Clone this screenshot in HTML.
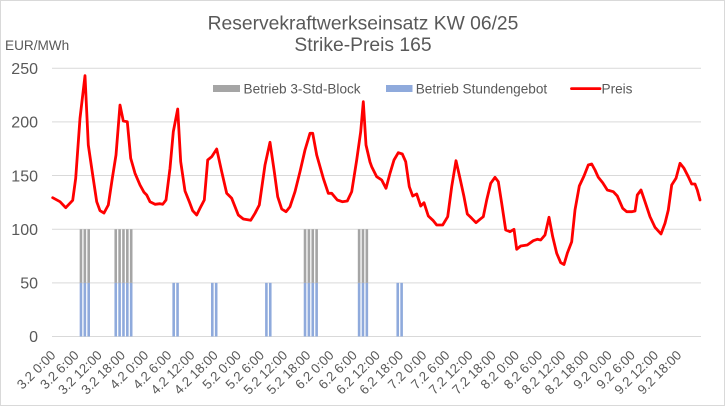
<!DOCTYPE html>
<html>
<head>
<meta charset="utf-8">
<style>
html,body{margin:0;padding:0;background:#fff;}
svg{display:block;font-family:"Liberation Sans",Arial,sans-serif;}
</style>
</head>
<body>
<svg width="726" height="407" viewBox="0 0 726 407" xmlns="http://www.w3.org/2000/svg">
<rect x="0.5" y="0.5" width="724" height="405" fill="#fff" stroke="#D9D9D9" stroke-width="1"/>

<!-- Title -->
<text x="363" y="29.5" text-anchor="middle" font-size="19.3" fill="#595959">Reservekraftwerkseinsatz KW 06/25</text>
<text x="363" y="51" text-anchor="middle" font-size="19.3" fill="#595959">Strike-Preis 165</text>

<!-- Axis unit -->
<text x="5" y="50" font-size="13.6" fill="#595959">EUR/MWh</text>

<!-- Gridlines -->
<g stroke="#D9D9D9" stroke-width="1">
<line x1="52" y1="68.25" x2="701" y2="68.25"/>
<line x1="52" y1="121.9" x2="701" y2="121.9"/>
<line x1="52" y1="175.55" x2="701" y2="175.55"/>
<line x1="52" y1="229.2" x2="701" y2="229.2"/>
<line x1="52" y1="282.85" x2="701" y2="282.85"/>
<line x1="52" y1="336.5" x2="701" y2="336.5"/>
</g>

<!-- Y tick labels -->
<g font-size="16" fill="#595959" text-anchor="end">
<text x="38" y="74">250</text>
<text x="38" y="127.6">200</text>
<text x="38" y="181.3">150</text>
<text x="38" y="234.9">100</text>
<text x="38" y="288.6">50</text>
<text x="38" y="342.2">0</text>
</g>

<!-- Bars: Stundengebot (blue, 0-50) -->
<g fill="#8FAADC">
<rect x="79.67" y="282.85" width="2.6" height="53.65"/>
<rect x="83.54" y="282.85" width="2.6" height="53.65"/>
<rect x="87.40" y="282.85" width="2.6" height="53.65"/>
<rect x="114.44" y="282.85" width="2.6" height="53.65"/>
<rect x="118.30" y="282.85" width="2.6" height="53.65"/>
<rect x="122.17" y="282.85" width="2.6" height="53.65"/>
<rect x="126.03" y="282.85" width="2.6" height="53.65"/>
<rect x="129.89" y="282.85" width="2.6" height="53.65"/>
<rect x="172.38" y="282.85" width="2.6" height="53.65"/>
<rect x="176.25" y="282.85" width="2.6" height="53.65"/>
<rect x="211.01" y="282.85" width="2.6" height="53.65"/>
<rect x="214.88" y="282.85" width="2.6" height="53.65"/>
<rect x="265.10" y="282.85" width="2.6" height="53.65"/>
<rect x="268.96" y="282.85" width="2.6" height="53.65"/>
<rect x="303.73" y="282.85" width="2.6" height="53.65"/>
<rect x="307.59" y="282.85" width="2.6" height="53.65"/>
<rect x="311.46" y="282.85" width="2.6" height="53.65"/>
<rect x="315.32" y="282.85" width="2.6" height="53.65"/>
<rect x="357.81" y="282.85" width="2.6" height="53.65"/>
<rect x="361.68" y="282.85" width="2.6" height="53.65"/>
<rect x="365.54" y="282.85" width="2.6" height="53.65"/>
<rect x="396.44" y="282.85" width="2.6" height="53.65"/>
<rect x="400.31" y="282.85" width="2.6" height="53.65"/>
</g>
<!-- Bars: 3-Std-Block (gray, 50-100) -->
<g fill="#A5A5A5">
<rect x="79.67" y="229.2" width="2.6" height="53.65"/>
<rect x="83.54" y="229.2" width="2.6" height="53.65"/>
<rect x="87.40" y="229.2" width="2.6" height="53.65"/>
<rect x="114.44" y="229.2" width="2.6" height="53.65"/>
<rect x="118.30" y="229.2" width="2.6" height="53.65"/>
<rect x="122.17" y="229.2" width="2.6" height="53.65"/>
<rect x="126.03" y="229.2" width="2.6" height="53.65"/>
<rect x="129.89" y="229.2" width="2.6" height="53.65"/>
<rect x="303.73" y="229.2" width="2.6" height="53.65"/>
<rect x="307.59" y="229.2" width="2.6" height="53.65"/>
<rect x="311.46" y="229.2" width="2.6" height="53.65"/>
<rect x="315.32" y="229.2" width="2.6" height="53.65"/>
<rect x="357.81" y="229.2" width="2.6" height="53.65"/>
<rect x="361.68" y="229.2" width="2.6" height="53.65"/>
<rect x="365.54" y="229.2" width="2.6" height="53.65"/>
</g>

<!-- Price line -->
<polyline fill="none" stroke="#FF0000" stroke-width="2.8" stroke-linejoin="round" stroke-linecap="round" points="
52.7,197.7 60,201.7 65.7,207.7 72.7,200.3 75.7,178.3 80,118.3 85,75.7 88.3,145 92.7,175 96.7,201.7
100,210.7 104,213 108.3,205 112.3,178.3 116,155 120,105 123.3,121 127.3,121.7 130.7,158.3 135,173.3
140,185 144,192.3 146.7,195 150,201.7 155,204.3 160,203.7 162.7,204.3 166,200 170,168.3 173.3,131.7
177.7,109 180.7,161.7 185,191 189.3,201.7 192.7,210.7 196.7,215 200,208.3 204.3,200 207.7,160 211.7,156.7
216.7,149 221.7,171.7 226.7,193.3 231.7,198.3 238.3,215 243.3,219 250.7,220.3 255,213.3 259.3,205 265,165
270,142.3 274.3,171.7 277.7,196.7 281.7,209 286,211.7 290,206.7 295,191.7 300,171.7 305,150 310,133.3
312.7,133.3 316.7,155 323.3,178.3 328.3,193.3 331.7,193.3 337.3,200 342.3,201.7 347.3,201 351.7,191.7 356.7,160
360.7,131.7 363.3,101.7 366,145 370,162 371.7,166.7 376.7,176.7 381.7,180 386,188.3 390,173.3 394,160
398.3,152.7 402.3,154 405.7,161.7 409.3,186.7 412.7,196 416.7,194 420.7,206 424,202.7 428.3,216 433.3,220.7
436.7,225 442.7,225 447.7,216.7 451.7,186.7 456,160.7 460,178.3 464,196.7 467.3,214 471.7,218.3 476,222.7
480,219.3 483.3,216.7 486.7,200 490.7,183.3 495,177.3 498.3,181.7 501.7,203.3 505.7,230 510,231.7 514,229.3
516.7,249.3 520.7,246 527.3,245 533.3,240.7 537.3,239.3 540.7,240 545,235 549,217.3 552.7,236.7 556.7,253.3
560.7,262.7 564,264.5 567.3,253.3 571.7,241.7 575,210 579.3,186 584,176 588.3,165 591.7,164 595,170
598.3,177.3 602.7,182.7 607.3,190 613.3,191.7 617.3,196 622.7,208.3 626.7,211.7 631.7,211.7 635,211 637.3,195
641,190 645,201.7 650,216.7 655,227.3 661,234 665,223.3 668.3,210 671.7,185 676,178.3 680,163.3
684,168.3 688.3,176.7 691.7,184 695,184 697.3,190 700,200"/>

<!-- Legend -->
<rect x="213" y="85" width="27" height="7" fill="#A5A5A5"/>
<text x="243.5" y="93.3" font-size="13.6" fill="#595959">Betrieb 3-Std-Block</text>
<rect x="386" y="85" width="26.5" height="7" fill="#8FAADC"/>
<text x="415.7" y="93.3" font-size="13.6" fill="#595959">Betrieb Stundengebot</text>
<line x1="571.5" y1="88.6" x2="600" y2="88.6" stroke="#FF0000" stroke-width="2.8" stroke-linecap="round"/>
<text x="601.5" y="93.3" font-size="13.6" fill="#595959">Preis</text>

<!-- X labels -->
<g font-size="13.3" fill="#595959" text-anchor="end">
<text transform="translate(56.4,356) rotate(-45)">3.2 0:00</text>
<text transform="translate(79.6,356) rotate(-45)">3.2 6:00</text>
<text transform="translate(102.8,356) rotate(-45)">3.2 12:00</text>
<text transform="translate(126.0,356) rotate(-45)">3.2 18:00</text>
<text transform="translate(149.2,356) rotate(-45)">4.2 0:00</text>
<text transform="translate(172.3,356) rotate(-45)">4.2 6:00</text>
<text transform="translate(195.5,356) rotate(-45)">4.2 12:00</text>
<text transform="translate(218.7,356) rotate(-45)">4.2 18:00</text>
<text transform="translate(241.9,356) rotate(-45)">5.2 0:00</text>
<text transform="translate(265.0,356) rotate(-45)">5.2 6:00</text>
<text transform="translate(288.2,356) rotate(-45)">5.2 12:00</text>
<text transform="translate(311.4,356) rotate(-45)">5.2 18:00</text>
<text transform="translate(334.6,356) rotate(-45)">6.2 0:00</text>
<text transform="translate(357.8,356) rotate(-45)">6.2 6:00</text>
<text transform="translate(380.9,356) rotate(-45)">6.2 12:00</text>
<text transform="translate(404.1,356) rotate(-45)">6.2 18:00</text>
<text transform="translate(427.3,356) rotate(-45)">7.2 0:00</text>
<text transform="translate(450.5,356) rotate(-45)">7.2 6:00</text>
<text transform="translate(473.6,356) rotate(-45)">7.2 12:00</text>
<text transform="translate(496.8,356) rotate(-45)">7.2 18:00</text>
<text transform="translate(520.0,356) rotate(-45)">8.2 0:00</text>
<text transform="translate(543.2,356) rotate(-45)">8.2 6:00</text>
<text transform="translate(566.4,356) rotate(-45)">8.2 12:00</text>
<text transform="translate(589.5,356) rotate(-45)">8.2 18:00</text>
<text transform="translate(612.7,356) rotate(-45)">9.2 0:00</text>
<text transform="translate(635.9,356) rotate(-45)">9.2 6:00</text>
<text transform="translate(659.1,356) rotate(-45)">9.2 12:00</text>
<text transform="translate(682.2,356) rotate(-45)">9.2 18:00</text>
</g>
</svg>
</body>
</html>
